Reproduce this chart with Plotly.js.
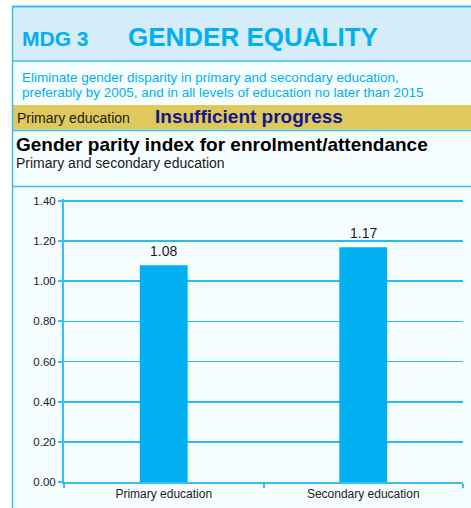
<!DOCTYPE html>
<html>
<head>
<meta charset="utf-8">
<script src="https://cdn.plot.ly/plotly-3.0.1.min.js"></script>
<style>
html,body{margin:0;padding:0;background:#ffffff;}
#chart{width:471px;height:508px;}
</style>
</head>
<body>
<div id="chart"></div>
<script>
// Data
var categories = ["Primary education", "Secondary education"];
var values = [1.08, 1.17];
var valueLabels = ["1.08", "1.17"];
var yRange = [0, 1.41];
var yTickStep = 0.2;

// Layout helpers (pixel -> paper coords)
var W = 471, H = 508;
var mL = 64, mR = 8, mT = 199, mB = 26;
var pw = W - mL - mR, ph = H - mT - mB;
function px(x){ return (x - mL) / pw; }
function py(y){ return (H - mB - y) / ph; }

var FONT = "Arial, 'Liberation Sans', sans-serif";
var BLUE = "#00b0f0";
var LINE = "#3cbdf0";

var shapes = [
  // white strips outside the frame
  {type:"rect", xref:"paper", yref:"paper", x0:px(-5), x1:px(480), y0:py(-5), y1:py(6), fillcolor:"#ffffff", line:{width:0}, layer:"below"},
  {type:"rect", xref:"paper", yref:"paper", x0:px(-5), x1:px(12), y0:py(-5), y1:py(520), fillcolor:"#ffffff", line:{width:0}, layer:"below"},
  // header box
  {type:"rect", xref:"paper", yref:"paper", x0:px(12), x1:px(480), y0:py(6), y1:py(61), fillcolor:"#d5ecf9", line:{width:0}, layer:"below"},
  // gold band
  {type:"rect", xref:"paper", yref:"paper", x0:px(13), x1:px(480), y0:py(105), y1:py(129.5), fillcolor:"#e0c95c", line:{width:0}, layer:"below"},
  // frame lines
  {type:"line", xref:"paper", yref:"paper", x0:px(12), x1:px(480), y0:py(6.5), y1:py(6.5), line:{color:LINE, width:2}},
  {type:"line", xref:"paper", yref:"paper", x0:px(12), x1:px(480), y0:py(61), y1:py(61), line:{color:LINE, width:1.5}},
  {type:"line", xref:"paper", yref:"paper", x0:px(12), x1:px(480), y0:py(130.5), y1:py(130.5), line:{color:LINE, width:1.5}},
  {type:"line", xref:"paper", yref:"paper", x0:px(12), x1:px(480), y0:py(186.5), y1:py(186.5), line:{color:LINE, width:1.5}},
  {type:"line", xref:"paper", yref:"paper", x0:px(12.5), x1:px(12.5), y0:py(6), y1:py(520), line:{color:LINE, width:1.5}}
];

function txt(t, x, y, size, color, bold){
  return {text: bold ? "<b>"+t+"</b>" : t, xref:"paper", yref:"paper", x:px(x), y:py(y),
    xanchor:"left", yanchor:"middle", showarrow:false,
    font:{family:FONT, size:size, color:color}};
}

var annotations = [
  txt("MDG 3", 20, 38, 21, BLUE, true),
  txt("GENDER EQUALITY", 126, 37, 26, BLUE, true),
  txt("Eliminate gender disparity in primary and secondary education,", 20, 77, 13.5, BLUE, false),
  txt("preferably by 2005, and in all levels of education no later than 2015", 20, 92, 13.5, BLUE, false),
  txt("Primary education", 15, 118, 14, "#1a1a1a", false),
  txt("Insufficient progress", 153, 117, 19, "#15168a", true),
  txt("Gender parity index for enrolment/attendance", 14, 144, 19, "#000000", true),
  txt("Primary and secondary education", 14, 163, 14, "#1a1a1a", false)
];

// value labels above bars, built from the data arrays
for (var i = 0; i < categories.length; i++) {
  annotations.push({
    text: valueLabels[i], x: categories[i], y: values[i], xref:"x", yref:"y",
    xanchor:"center", yanchor:"bottom", yshift: 4, showarrow:false,
    font:{family:FONT, size:14, color:"#1a1a1a"}
  });
}

var trace = {
  type:"bar", x: categories, y: values,
  marker:{color: BLUE, line:{width:0}},
  hoverinfo:"skip"
};

var layout = {
  width: W, height: H,
  margin:{l:mL, r:mR, t:mT, b:mB, pad:0},
  paper_bgcolor:"#f5fdff",
  plot_bgcolor:"#f5fdff",
  showlegend:false,
  bargap:0.76,
  font:{family:FONT},
  xaxis:{
    type:"category", showgrid:false, showline:true, linecolor:LINE, linewidth:2,
    ticks:"outside", tickson:"boundaries", ticklen:4, tickcolor:LINE, tickwidth:2,
    tickfont:{family:FONT, size:12, color:"#222222"}, zeroline:false, fixedrange:true
  },
  yaxis:{
    range:yRange, tickmode:"linear", tick0:0, dtick:yTickStep, tickformat:".2f",
    showgrid:true, gridcolor:"#2cb8f0", gridwidth:1.6,
    showline:true, linecolor:LINE, linewidth:2,
    ticks:"outside", ticklen:4, tickcolor:LINE, tickwidth:2,
    tickfont:{family:FONT, size:11.5, color:"#222222"}, zeroline:false, fixedrange:true
  },
  shapes: shapes,
  annotations: annotations
};

Plotly.newPlot("chart", [trace], layout, {displayModeBar:false, staticPlot:true});
</script>
</body>
</html>
